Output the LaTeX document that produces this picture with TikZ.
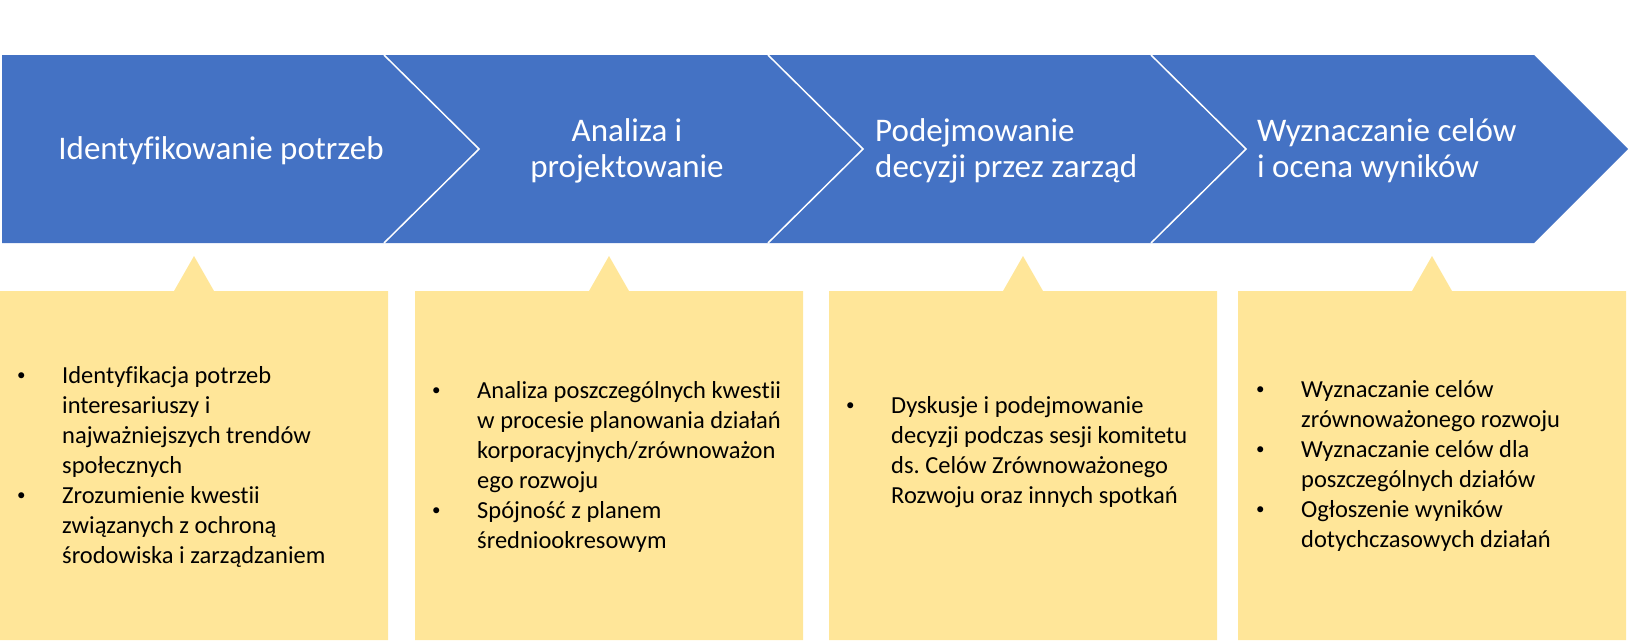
\documentclass[tikz,border=0pt]{standalone}
\usepackage{fontspec}
\setmainfont[Ligatures=NoCommon]{Carlito}
\frenchspacing
\definecolor{chevblue}{HTML}{4472C4}
\definecolor{boxyellow}{HTML}{FFE699}
\tikzset{
  hdr/.style={inner sep=0pt, text=white, font=\fontsize{33}{36}\selectfont},
  body/.style={inner sep=0pt, text=black, anchor=base west},
  sep/.style={draw=white, line width=1.5pt},
  callout/.style={fill=boxyellow},
}
\newcommand{\bl}{\makebox[48pt][l]{\hspace*{3pt}\raisebox{2.5pt}{\fontsize{17}{17}\selectfont •}}}
\newcommand{\ind}{\hspace*{48pt}}
\begin{document}
\frenchspacing
\begin{tikzpicture}[x=1pt,y=-1pt]
\useasboundingbox (0,0) rectangle (1632,640);
% chevron band
\fill[chevblue] (2,55) -- (1534,55) -- (1628,149) -- (1534,243) -- (2,243) -- cycle;
\foreach \xx in {384,768,1151}{
  \draw[sep] (\xx,55) -- (\xx+95,149) -- (\xx,243);
}
% header texts
\node[hdr, anchor=base] (h1) at (221,159) {Identyfikowanie potrzeb};
\node[hdr, anchor=base] (h2) at (627,141) {\parbox[t]{300pt}{\centering Analiza i\\projektowanie}};
\node[hdr, anchor=base west] (h3) at (875,141) {\parbox[t]{300pt}{\raggedright Podejmowanie\\decyzji przez zarząd}};
\node[hdr, anchor=base west] (h4) at (1257,141) {\parbox[t]{300pt}{\raggedright Wyznaczanie celów\\i ocena wyników}};
% callout boxes
\foreach \xl in {0,415,829,1238}{
  \fill[callout] (\xl,291) -- (\xl+174,291) -- (\xl+194,256) -- (\xl+214,291) -- (\xl+388,291) -- (\xl+388,640) -- (\xl,640) -- cycle;
}
% body texts
\node[body] (b1) at (14,383) {\parbox[t]{380pt}{\fontsize{24.5}{30}\selectfont\frenchspacing
\bl Identyfikacja potrzeb\\
\ind interesariuszy i\\
\ind najważniejszych trendów\\
\ind społecznych\\
\bl Zrozumienie kwestii\\
\ind związanych z ochroną\\
\ind środowiska i zarządzaniem}};
\node[body] (b2) at (429,398) {\parbox[t]{380pt}{\fontsize{24.5}{30}\selectfont\frenchspacing
\bl Analiza poszczególnych kwestii\\
\ind w procesie planowania działań\\
\ind korporacyjnych/zrównoważon\\
\ind ego rozwoju\\
\bl Spójność z planem\\
\ind średniookresowym}};
\node[body] (b3) at (843,413) {\parbox[t]{380pt}{\fontsize{24.5}{30}\selectfont\frenchspacing
\bl Dyskusje i podejmowanie\\
\ind decyzji podczas sesji komitetu\\
\ind ds. Celów Zrównoważonego\\
\ind Rozwoju oraz innych spotkań}};
\node[body] (b4) at (1253,397) {\parbox[t]{380pt}{\fontsize{24.5}{30}\selectfont\frenchspacing
\bl Wyznaczanie celów\\
\ind zrównoważonego rozwoju\\
\bl Wyznaczanie celów dla\\
\ind poszczególnych działów\\
\bl Ogłoszenie wyników\\
\ind dotychczasowych działań}};
\end{tikzpicture}
\end{document}
